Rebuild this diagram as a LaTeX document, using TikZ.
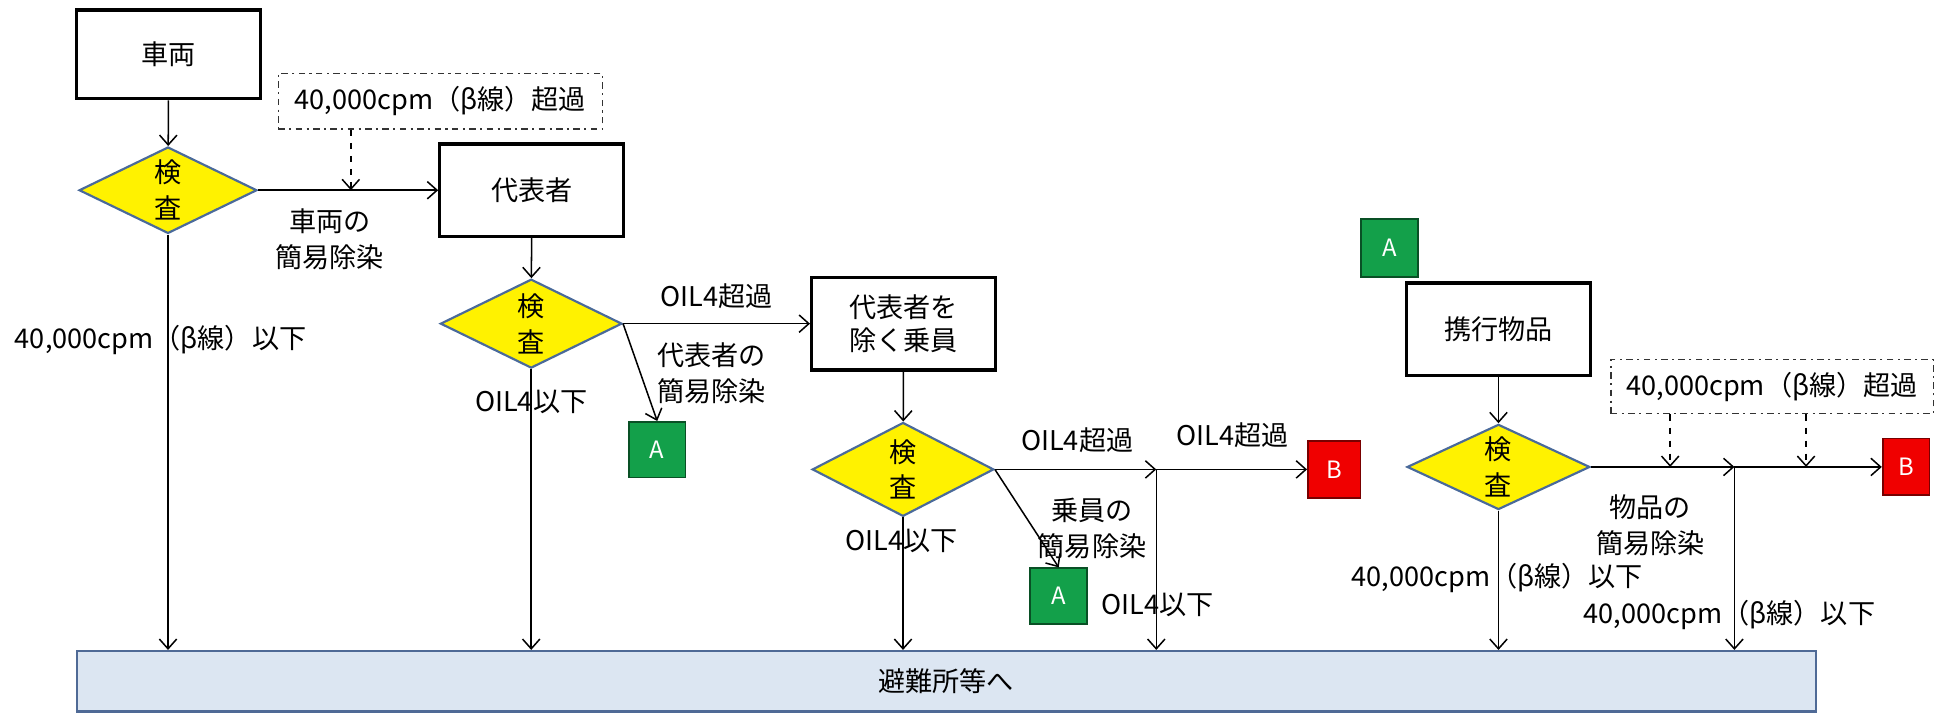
\documentclass[tikz,border=0pt]{standalone}
\usepackage{fontspec}
\setmainfont{Noto Sans CJK JP}
\usetikzlibrary{shapes.geometric,arrows.meta}
\definecolor{checkline}{HTML}{4A6A9A}
\definecolor{barfill}{HTML}{DCE6F2}
\definecolor{barline}{HTML}{4F6A96}
\definecolor{agreen}{HTML}{13A04A}
\definecolor{ared}{HTML}{F00000}
\newcommand{\flowfont}{\fontsize{12.5}{16.5}\selectfont}
\newcommand{\tagfont}{\fontsize{11}{13}\selectfont}
\tikzset{
    stepbox/.style = {draw, line width=1.5pt, minimum width=2.98cm, minimum height=1.5cm, align=center, font=\flowfont},
    check/.style = {diamond, aspect=2, draw=checkline, line width=1pt, fill=yellow, minimum width=2.94cm, minimum height=1.44cm, inner sep=0pt, align=center, font=\flowfont},
    overbox/.style = {draw=black!80, line width=0.6pt, dash pattern=on 3pt off 2pt on 1pt off 2pt, minimum width=5.25cm, minimum height=0.9cm, font=\flowfont},
    tagA/.style = {draw=agreen!50!black, line width=0.8pt, fill=agreen, text=white, minimum width=0.92cm, minimum height=0.9cm, font=\tagfont},
    tagB/.style = {draw=ared!50!black, line width=0.8pt, fill=ared, text=white, minimum width=0.85cm, minimum height=0.92cm, font=\tagfont},
    note/.style = {align=center, font=\flowfont, inner sep=1pt},
    arr/.style = {line width=0.7pt, -{Straight Barb[length=4.5pt,width=8pt]}},
    darr/.style = {line width=0.7pt, dashed, -{Straight Barb[length=4.5pt,width=8pt]}}
}
\begin{document}
\begin{tikzpicture}[x=0.02cm, y=-0.02cm]
    \useasboundingbox (0,0) rectangle (1568,577);
    \node [stepbox, minimum height=1.44cm] (car) at (136.5,44) {車両};
    \node [check, minimum width=2.88cm, minimum height=1.4cm] (dia1) at (136,154) {検\\査};
    \node [overbox] (over1) at (356.5,82) {40,000cpm（β線）超過};
    \node [stepbox] (rep) at (430.5,154) {代表者};
    \node [check] (dia2) at (430,262) {検\\査};
    \node [stepbox, font=\fontsize{12.5}{15}\selectfont] (crew) at (731.5,262) {代表者を\\除く乗員};
    \node [tagA] (a1) at (532,364) {A};
    \node [check, minimum height=1.52cm] (dia3) at (731,380) {検\\査};
    \node [tagA] (a2) at (857,482.5) {A};
    \node [tagB] (b1) at (1080,380) {B};
    \node [tagA, minimum height=0.94cm] (a3) at (1125,200.5) {A};
    \node [stepbox] (goods) at (1213,266.5) {携行物品};
    \node [check, minimum width=2.96cm, minimum height=1.38cm] (dia4) at (1213,378) {検\\査};
    \node [overbox, minimum width=5.22cm, minimum height=0.88cm] (over2) at (1434.5,313) {40,000cpm（β線）超過};
    \node [tagB, minimum width=0.76cm] (b2) at (1543,378) {B};
    \node [draw=barline, line width=1pt, fill=barfill, minimum width=28.16cm, minimum height=0.98cm, font=\flowfont] (bar) at (766,551.5) {避難所等へ};
    \coordinate (d1) at (284,154);
    \coordinate (j1) at (936,380);
    \coordinate (j2) at (1404,378);
    \coordinate (d2) at (1352,378);
    \coordinate (d3) at (1462,378);
    \draw [arr] (car) -- (dia1);
    \draw [arr] (dia1.east) -- (rep.west);
    \draw [darr] (over1.south -| d1) -- (d1);
    \draw [arr] (dia1.south) -- (dia1.south |- bar.north);
    \draw [arr] (rep) -- (dia2);
    \draw [arr] (dia2.east) -- (crew.west);
    \draw [arr] (dia2.east) -- (a1.north);
    \draw [arr] (dia2.south) -- (dia2.south |- bar.north);
    \draw [arr] (crew) -- (dia3);
    \draw [arr] (dia3.east) -- (j1);
    \draw [arr] (j1) -- (b1.west);
    \draw [arr] (j1) -- (j1 |- bar.north);
    \draw [arr] (dia3.east) -- (a2.north);
    \draw [arr] (dia3.south) -- (dia3.south |- bar.north);
    \draw [arr] (goods) -- (dia4);
    \draw [arr] (dia4.east) -- (j2);
    \draw [arr] (j2) -- (b2.west);
    \draw [arr] (j2) -- (j2 |- bar.north);
    \draw [darr] (over2.south -| d2) -- (d2);
    \draw [darr] (over2.south -| d3) -- (d3);
    \draw [arr] (dia4.south) -- (dia4.south |- bar.north);
    \node [note] (l1) at (130,275) {40,000cpm（β線）以下};
    \node [note] (l2) at (267,194) {車両の\\簡易除染};
    \node [note] (l3) at (430,325) {OIL4以下};
    \node [note] (l4) at (580,240) {OIL4超過};
    \node [note] (l5) at (576,302) {代表者の\\簡易除染};
    \node [note] (l6) at (730,438) {OIL4以下};
    \node [note] (l7) at (872,356) {OIL4超過};
    \node [note] (l8) at (998,352) {OIL4超過};
    \node [note] (l9) at (884,428) {乗員の\\簡易除染};
    \node [note] (l10) at (937,490) {OIL4以下};
    \node [note] (l11) at (1336,425) {物品の\\簡易除染};
    \node [note] (l12) at (1212,468) {40,000cpm（β線）以下};
    \node [note] (l13) at (1400,498) {40,000cpm（β線）以下};
\end{tikzpicture}
\end{document}
